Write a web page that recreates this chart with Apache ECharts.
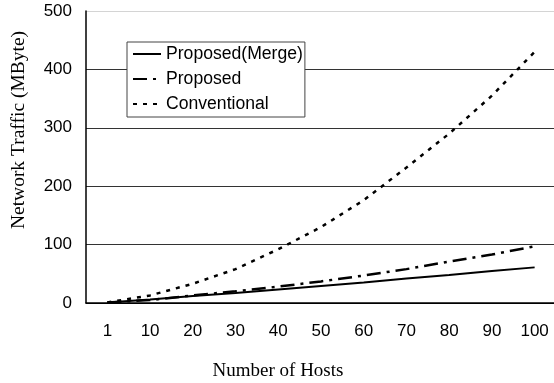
<!DOCTYPE html>
<html><head><meta charset="utf-8">
<script src="https://cdn.jsdelivr.net/npm/echarts@6/dist/echarts.min.js"></script>
<style>html,body{margin:0;padding:0;background:#fff}#c{width:554px;height:383px}</style>
</head><body><div id="c"></div>
<script>
const categories = ['1','10','20','30','40','50','60','70','80','90','100'];
const mergeValues = [1, 6, 12, 17, 23, 29, 35, 42, 48, 55, 61];
const proposedValues = [1, 5, 13, 20, 28, 37, 47, 58, 71, 83, 97];
const conventionalValues = [1, 13, 33, 58, 92, 130, 176, 232, 290, 355, 430];
const yTicks = [0, 100, 200, 300, 400, 500];

const chart = echarts.init(document.getElementById('c'), null, {renderer: 'canvas'});
chart.setOption({
  animation: false,
  backgroundColor: '#fff',
  grid: {left: 86, top: 11, width: 470, height: 292, containLabel: false, outerBoundsMode: 'none'},
  legend: {
    orient: 'vertical', left: 127, top: 42,
    padding: [3, 2, 4, 5], itemGap: 7, itemWidth: 28, itemHeight: 18,
    borderColor: '#444', borderWidth: 1, backgroundColor: '#fff',
    itemStyle: {opacity: 0},
    textStyle: {fontFamily: 'Liberation Sans, Arial', fontSize: 17.6, color: '#000'},
    data: ['Proposed(Merge)', 'Proposed', 'Conventional']
  },
  xAxis: {
    type: 'category', data: categories, boundaryGap: true,
    name: 'Number of Hosts', nameLocation: 'middle', nameGap: 59,
    nameTextStyle: {fontFamily: 'Liberation Serif, Times New Roman', fontSize: 19, color: '#000', padding: [0, 86, 0, 0]},
    axisLine: {lineStyle: {color: '#000', width: 1.5}},
    axisTick: {show: false},
    axisLabel: {fontFamily: 'Liberation Sans, Arial', fontSize: 17, color: '#000', margin: 20, interval: 0}
  },
  yAxis: {
    type: 'value', min: yTicks[0], max: yTicks[yTicks.length - 1], interval: 100,
    name: 'Network Traffic (MByte)', nameLocation: 'middle', nameGap: 57,
    nameTextStyle: {fontFamily: 'Liberation Serif, Times New Roman', fontSize: 19.5, color: '#000', padding: [0, 0, 0, 54]},
    axisLine: {show: true, lineStyle: {color: '#000', width: 1.5}},
    axisTick: {show: false},
    axisLabel: {fontFamily: 'Liberation Sans, Arial', fontSize: 17, color: '#000', margin: 14},
    splitLine: {show: true, lineStyle: {color: ['#000', '#333', '#333', '#333', '#333', '#d4d4d4'], width: 1}}
  },
  series: [
    {name: 'Proposed(Merge)', type: 'line', data: mergeValues, symbol: 'none',
     lineStyle: {color: '#000', width: 2, type: 'solid'}, itemStyle: {color: '#000'}},
    {name: 'Proposed', type: 'line', data: proposedValues, symbol: 'none',
     lineStyle: {color: '#000', width: 2.5, type: [14, 6, 3, 6]}, itemStyle: {color: '#000'}},
    {name: 'Conventional', type: 'line', data: conventionalValues, symbol: 'none',
     lineStyle: {color: '#000', width: 2.5, type: [4, 6]}, itemStyle: {color: '#000'}}
  ]
});
</script></body></html>
